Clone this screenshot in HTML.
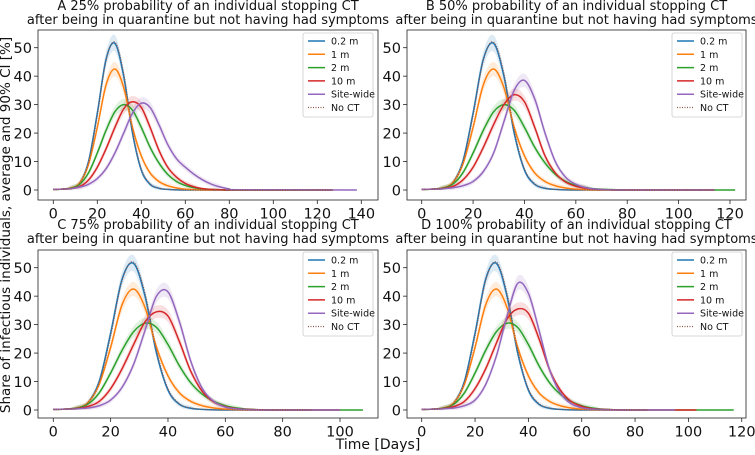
<!DOCTYPE html>
<html><head><meta charset="utf-8"><style>
html,body{margin:0;padding:0;background:#fff;}
svg{display:block;font-family:"DejaVu Sans","Liberation Sans",sans-serif;}
</style></head><body>
<svg id="fig" width="755" height="455" viewBox="0 0 755 455" xmlns="http://www.w3.org/2000/svg">
<text x="10" y="225" transform="rotate(-90 10 225)" text-anchor="middle" font-size="13.5" fill="#111">Share of infectious individuals, average and 90% CI [%]</text>
<text x="378" y="449" text-anchor="middle" font-size="14" fill="#111">Time [Days]</text>
</svg>
<script>
const days = [0,4,8,12,16,20,24,28,32,36,40,44,48,52,56,60,64,68,72,76,80,84];
const seriesNames = ["0.2 m","1 m","2 m","10 m","Site-wide","No CT"];
const blueVals = [0.2,0.3,0.7,2.5,10,27,46,51.5,40,20,7,2,0.6,0.2,0.05,0,0,0,0,0,0,0];
const noCtVals = [0.2,0.3,0.7,2.3,9.5,26,45.5,52,41,21,7.5,2.2,0.7,0.2,0.05,0,0,0,0,0,0,0];
const orangeVals = [0.2,0.3,0.7,2.5,9,22,37,42.5,36,22,12,6,3,1.5,0.7,0.3,0.1,0,0,0,0,0];
const greenA = [0.2,0.3,0.6,2,6,13,21,27.5,30,28,22,15,9.5,5.5,3,1.6,0.8,0.4,0.2,0.1,0,0];
const redA = [0.2,0.3,0.5,1.2,3.5,8,14.5,22,28.5,31,29,22,14,8,4.5,2.3,1.1,0.5,0.2,0.1,0,0];
const purpleA = [0.2,0.3,0.5,1,2,4,7.5,13,20,27,30.5,29,23,16,11,8,5.5,3.5,2,1,0.4,0.1];
const redB = [0.2,0.3,0.5,1.2,3.5,8,15,23,30,33.5,31,22,12,6,2.8,1.3,0.6,0.2,0.1,0,0,0];
const purpleB = [0.2,0.3,0.4,0.8,1.5,3,6.5,13,24,35,38.5,32,20,10,4.5,2,0.8,0.3,0.1,0,0,0];
const greenC = [0.2,0.3,0.6,2,6,13,21,27.5,30.5,29,23,15.5,9.5,5.5,3,1.5,0.7,0.3,0.1,0,0,0];
const redC = [0.2,0.3,0.5,1.2,3,7.5,14.5,23,31,34.5,33,24,13.5,6.5,2.8,1.2,0.5,0.2,0.1,0,0,0];
const purpleC = [0.2,0.3,0.4,0.7,1.5,3.5,8,16,28,40,41.5,31,17,7.5,3,1,0.4,0.1,0,0,0,0];
const redD = [0.2,0.3,0.5,1.2,3,7.5,14.5,23.5,32,35.5,34,25,14,7,3,1.3,0.5,0.2,0.1,0,0,0];
const purpleD = [0.2,0.3,0.4,0.7,1.5,3.5,9,19,33,44.5,41,28,14,6,2.2,0.8,0.3,0.1,0,0,0,0];
const xTicksA = [0,20,40,60,80,100,120,140];
const xTicksB = [0,20,40,60,80,100,120];
const xTicksC = [0,20,40,60,80,100];
const xTicksD = [0,20,40,60,80,100,120];
const yTicks = [0,10,20,30,40,50];
const endDaysA = [127,127,127,127,138,127];
const endDaysB = [114,114,122,114,114,114];
const endDaysC = [90,100,108,100,100,90];
const endDaysD = [85,85,117,103,95,85];

const colors = ["#1f77b4","#ff7f0e","#2ca02c","#d62728","#9467bd","#8c564b"];
const NS = "http://www.w3.org/2000/svg";
const svg = document.getElementById("fig");

function mk(tag, attrs, parent){
  const e = document.createElementNS(NS, tag);
  for (const k in attrs) e.setAttribute(k, attrs[k]);
  (parent||svg).appendChild(e);
  return e;
}
function smoothPath(pts){
  let d = "M" + pts[0][0].toFixed(2) + "," + pts[0][1].toFixed(2);
  for (let i=0;i<pts.length-1;i++){
    const p0 = pts[Math.max(0,i-1)], p1 = pts[i], p2 = pts[i+1], p3 = pts[Math.min(pts.length-1,i+2)];
    const c1x = p1[0]+(p2[0]-p0[0])/6, c1y = p1[1]+(p2[1]-p0[1])/6;
    const c2x = p2[0]-(p3[0]-p1[0])/6, c2y = p2[1]-(p3[1]-p1[1])/6;
    d += " C"+c1x.toFixed(2)+","+c1y.toFixed(2)+" "+c2x.toFixed(2)+","+c2y.toFixed(2)+" "+p2[0].toFixed(2)+","+p2[1].toFixed(2);
  }
  return d;
}

const panels = [
  {id:"a", title1:"A 25% probability of an individual stopping CT", box:[38,30,378,200], tOff:6, x0:53.3, pxPerDay:2.2, y0:190, pxPerUnit:2.846, ticks:xTicksA, series:[blueVals,orangeVals,greenA,redA,purpleA,noCtVals], ends:endDaysA, legend:[303,33]},
  {id:"b", title1:"B 50% probability of an individual stopping CT", box:[407,30,746,200], tOff:6, x0:421.7, pxPerDay:2.569, y0:190, pxPerUnit:2.846, ticks:xTicksB, series:[blueVals,orangeVals,greenA,redB,purpleB,noCtVals], ends:endDaysB, legend:[672,33]},
  {id:"c", title1:"C 75% probability of an individual stopping CT", box:[38,250,378,418], tOff:7, x0:53.3, pxPerDay:2.867, y0:410, pxPerUnit:2.846, ticks:xTicksC, series:[blueVals,orangeVals,greenC,redC,purpleC,noCtVals], ends:endDaysC, legend:[303,252]},
  {id:"d", title1:"D 100% probability of an individual stopping CT", box:[407,250,746,418], tOff:7, x0:421.7, pxPerDay:2.667, y0:410, pxPerUnit:2.846, ticks:xTicksD, series:[blueVals,orangeVals,greenC,redD,purpleD,noCtVals], ends:endDaysD, legend:[672,252]}
];

panels.forEach(p => {
  const g = mk("g", {});
  
  
  const xs = v => p.x0 + v*p.pxPerDay;
  const ys = v => p.y0 - v*p.pxPerUnit;
  const cx = (p.box[0]+p.box[2])/2;
  const t1 = mk("text", {x:cx, y:p.box[1]-p.tOff-14, "text-anchor":"middle", "font-size":"13", fill:"#111"}, g);
  t1.textContent = p.title1;
  
  
  const t2 = mk("text", {x:cx, y:p.box[1]-p.tOff, "text-anchor":"middle", "font-size":"13", fill:"#111"}, g);
  t2.textContent = "after being in quarantine but not having had symptoms";
  
  

  p.series.forEach((vals, si) => {
    if (si < 5) {
      const up = days.map((d,i)=>[xs(d), ys(vals[i] + (vals[i]>0.5 ? 0.8+0.04*vals[i] : 0))]);
      const lo = days.map((d,i)=>[xs(d), ys(Math.max(0, vals[i] - (vals[i]>0.5 ? 0.8+0.04*vals[i] : 0)))]);
      const dd = smoothPath(up) + " L" + smoothPath(lo.slice().reverse()).slice(1) + " Z";
      const band = mk("path", {d:dd, fill:colors[si], "fill-opacity":"0.15", stroke:"none"}, g);
      
      
    }
  });
  p.series.forEach((vals, si) => {
    const pts = days.map((d,i)=>[xs(d), ys(vals[i])]);
    pts.push([xs(p.ends[si]), ys(0)]);
    const attrs = {d:smoothPath(pts), fill:"none", stroke:colors[si], "stroke-width":"1.5"};
    if (si===5){ attrs["stroke-dasharray"]="1,1.5"; attrs["stroke-width"]="1.2"; }
    const line = mk("path", attrs, g);
    
    
  });

  const rect = mk("rect", {x:p.box[0], y:p.box[1], width:p.box[2]-p.box[0], height:p.box[3]-p.box[1], fill:"none", stroke:"#222", "stroke-width":"0.8"}, g);
  
  

  p.ticks.forEach(t => {
    const x = xs(t);
    const tk = mk("line", {x1:x, x2:x, y1:p.box[3], y2:p.box[3]+4, stroke:"#222", "stroke-width":"0.8"}, g);
    
    
    const tl = mk("text", {x:x, y:p.box[3]+18.5, "text-anchor":"middle", "font-size":"14.5", fill:"#111"}, g);
    tl.textContent = t;
    
    
  });
  yTicks.forEach(t => {
    const y = ys(t);
    const tk = mk("line", {x1:p.box[0]-4, x2:p.box[0], y1:y, y2:y, stroke:"#222", "stroke-width":"0.8"}, g);
    
    
    const tl = mk("text", {x:p.box[0]-6, y:y+5.3, "text-anchor":"end", "font-size":"14.5", fill:"#111"}, g);
    tl.textContent = t;
    
    
  });

  const lg = mk("g", {}, g);
  
  
  const [lx, ly] = p.legend;
  const lr = mk("rect", {x:lx, y:ly, width:70, height:84, rx:2, fill:"#fff", "fill-opacity":"0.85", stroke:"#ccc", "stroke-width":"0.8"}, lg);
  
  
  seriesNames.forEach((nm, si) => {
    const y = ly + 8 + si*13.3;
    const attrs = {x1:lx+5, x2:lx+22, y1:y, y2:y, stroke:colors[si], "stroke-width":"1.5"};
    if (si===5){ attrs["stroke-dasharray"]="1,1.5"; attrs["stroke-width"]="1.2"; }
    const ln = mk("line", attrs, lg);
    
    
    const tx = mk("text", {x:lx+28, y:y+3.5, "font-size":"9.5", fill:"#111"}, lg);
    tx.textContent = nm;
    
    
  });
});
</script>
</body></html>
